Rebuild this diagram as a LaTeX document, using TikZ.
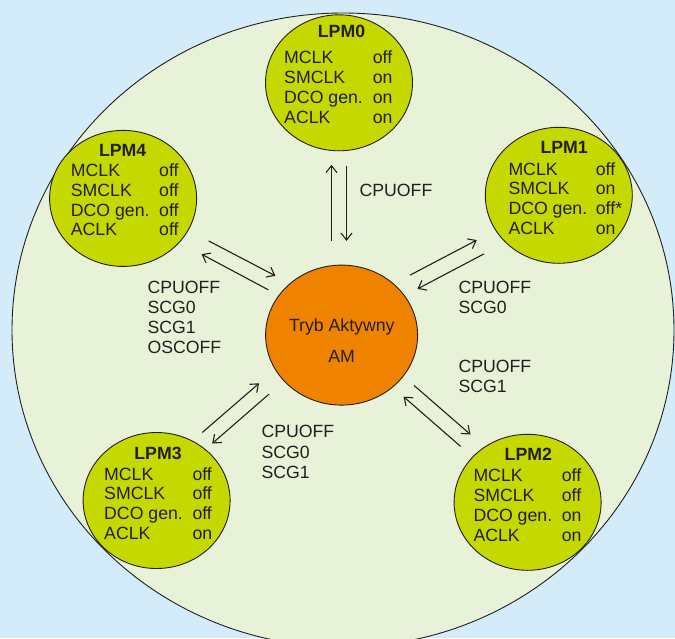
\documentclass[tikz,border=0pt]{standalone}
\usepackage{fontspec}
\setmainfont{Liberation Sans}
\usetikzlibrary{arrows.meta,shapes.geometric}
\definecolor{bgblue}{RGB}{212,236,250}
\definecolor{outerfill}{RGB}{232,242,216}
\definecolor{lpmfill}{RGB}{197,216,0}
\definecolor{amfill}{RGB}{239,131,0}
\definecolor{ink}{RGB}{35,31,32}
\newcommand\lpmtable[5]{%
  \foreach \t/\v [count=\i] in {#5} {
    \node[txt,anchor=base west] (#1l\i) at (#2,{#4+19.9*(\i-1)}) {\t};
    \node[txt,anchor=base west] (#1r\i) at (#3,{#4+19.9*(\i-1)}) {\v};
  }}
\begin{document}
\begin{tikzpicture}[x=1pt,y=-1pt,
  txt/.style={text=ink,font=\fontsize{17.7}{20}\selectfont,inner sep=0pt},
  ttl/.style={txt,font=\fontsize{17.7}{20}\selectfont\bfseries,anchor=base},
  lpmnode/.style={ellipse,draw=ink,line width=0.9pt,fill=lpmfill,minimum width=147pt,minimum height=136pt,inner sep=0pt},
  amnode/.style={ellipse,draw=ink,line width=0.9pt,fill=amfill,minimum width=152pt,minimum height=140pt,inner sep=0pt},
  conn/.style={draw=ink,line width=1.1pt,-{Straight Barb[length=7pt,width=11pt,line width=1.1pt]}}]
\useasboundingbox (0,0) rectangle (675,638);
\clip (0,0) rectangle (675,638);
\fill[bgblue] (0,0) rectangle (675,638);
\draw[fill=outerfill,draw=ink,line width=0.9pt] (343,330) ellipse [x radius=331, y radius=317];

% state circles
\node[lpmnode] (lpm0) at (339,82.8) {};
\node[lpmnode] (lpm4) at (123.1,198.4) {};
\node[lpmnode] (lpm1) at (558.8,195.3) {};
\node[lpmnode] (lpm3) at (156.6,500.5) {};
\node[lpmnode] (lpm2) at (527.6,502.3) {};
\node[amnode] (am) at (341.6,335.1) {};

% titles
\node[ttl] (t0) at (341.5,37.7) {LPM0};
\node[ttl] (t4) at (122.7,156.5) {LPM4};
\node[ttl] (t1) at (564.2,153.3) {LPM1};
\node[ttl] (t3) at (158,459) {LPM3};
\node[ttl] (t2) at (528.3,460.7) {LPM2};

% tables
\lpmtable{a}{284}{372.7}{63.3}{MCLK/off,SMCLK/on,DCO gen./on,ACLK/on}
\lpmtable{e}{70.7}{159}{176.2}{MCLK/off,SMCLK/off,DCO gen./off,ACLK/off}
\lpmtable{b}{508.3}{595.7}{175}{MCLK/off,SMCLK/on,DCO gen./off*,ACLK/on}
\lpmtable{d}{104}{192.3}{480}{MCLK/off,SMCLK/off,DCO gen./off,ACLK/on}
\lpmtable{c}{473.3}{561.7}{481.7}{MCLK/off,SMCLK/off,DCO gen./on,ACLK/on}

% active mode text
\node[txt,anchor=base] (amt1) at (341.8,331) {Tryb Aktywny};
\node[txt,anchor=base] (amt2) at (341.7,362.3) {AM};

% transition labels
\node[txt,anchor=base west] (l0) at (359.4,196.8) {CPUOFF};
\node[txt,anchor=base west,align=left] (l4a) at (147.3,293.3) {CPUOFF};
\node[txt,anchor=base west] (l4b) at (147.3,313.3) {SCG0};
\node[txt,anchor=base west] (l4c) at (147.3,333.3) {SCG1};
\node[txt,anchor=base west] (l4d) at (147.3,353.3) {OSCOFF};
\node[txt,anchor=base west] (l1a) at (458.3,293.3) {CPUOFF};
\node[txt,anchor=base west] (l1b) at (458.3,313.3) {SCG0};
\node[txt,anchor=base west] (l2a) at (458.3,372) {CPUOFF};
\node[txt,anchor=base west] (l2b) at (458.3,392) {SCG1};
\node[txt,anchor=base west] (l3a) at (261.3,437.7) {CPUOFF};
\node[txt,anchor=base west] (l3b) at (261.3,458) {SCG0};
\node[txt,anchor=base west] (l3c) at (261.3,478.3) {SCG1};

% connector end points
\coordinate (p0a) at (331.5,240.9); \coordinate (p0b) at (331.5,164.8);
\coordinate (p0c) at (346.5,165.6); \coordinate (p0d) at (346.5,240.9);
\coordinate (p4a) at (208.6,240.9); \coordinate (p4b) at (275.4,275.8);
\coordinate (p4c) at (268.3,289.8); \coordinate (p4d) at (201.6,254.2);
\coordinate (p1a) at (410.1,275.1); \coordinate (p1b) at (476.8,240.1);
\coordinate (p1c) at (484.1,253.8); \coordinate (p1d) at (417.5,288.9);
\coordinate (p2a) at (414.1,385.5); \coordinate (p2b) at (470.5,434.5);
\coordinate (p2c) at (460.6,446.4); \coordinate (p2d) at (403.6,396.7);
\coordinate (p3a) at (202.3,432.5); \coordinate (p3b) at (259.1,383.3);
\coordinate (p3c) at (269,394.1); \coordinate (p3d) at (212.2,443.5);

\draw[conn] (p0a) -- (p0b);
\draw[conn] (p0c) -- (p0d);
\draw[conn] (p4a) -- (p4b);
\draw[conn] (p4c) -- (p4d);
\draw[conn] (p1a) -- (p1b);
\draw[conn] (p1c) -- (p1d);
\draw[conn] (p2a) -- (p2b);
\draw[conn] (p2c) -- (p2d);
\draw[conn] (p3a) -- (p3b);
\draw[conn] (p3c) -- (p3d);
\end{tikzpicture}
\end{document}
